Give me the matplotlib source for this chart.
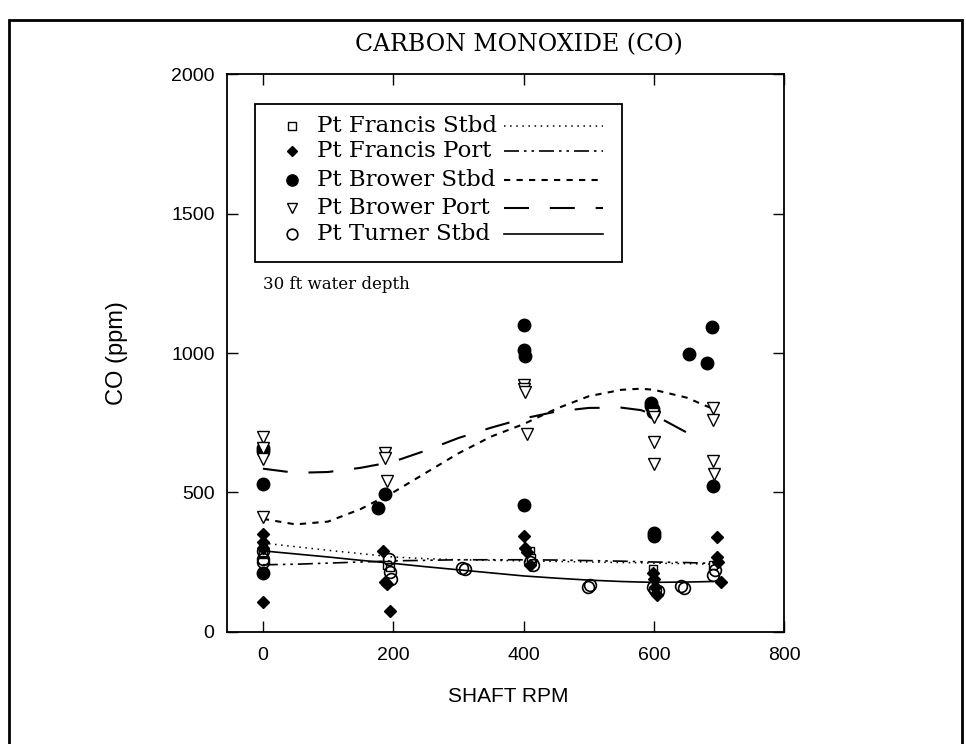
import matplotlib
matplotlib.use("Agg")
import matplotlib.pyplot as plt
from matplotlib.patches import Rectangle

# scatter data (shaft rpm, CO ppm)
francis_stbd_x = [0, 0, 190, 195, 410, 412, 598, 690]
francis_stbd_y = [300, 280, 240, 232, 290, 265, 225, 240]

francis_port_x = [0, 0, 0, 0, 185, 188, 190, 195, 400, 402, 405, 410, 598, 600, 602, 605, 697, 697, 698, 702]
francis_port_y = [350, 320, 300, 105, 290, 180, 170, 75, 345, 300, 285, 240, 210, 190, 160, 130, 341, 269, 250, 180]

brower_stbd_x = [0, 0, 0, 0, 176, 187, 400, 400, 402, 400, 596, 596, 598, 598, 600, 600, 654, 682, 689, 691]
brower_stbd_y = [660, 650, 530, 210, 445, 495, 1100, 1010, 990, 455, 820, 810, 800, 790, 355, 345, 995, 966, 1095, 524]

brower_port_x = [0, 0, 0, 0, 187, 188, 190, 400, 400, 402, 405, 598, 600, 600, 600, 690, 691, 690, 692]
brower_port_y = [700, 660, 620, 410, 640, 622, 540, 885, 870, 860, 710, 780, 770, 680, 600, 804, 760, 614, 567]

turner_stbd_x = [0, 0, 0, 193, 195, 197, 305, 310, 410, 415, 498, 502, 598, 602, 606, 642, 646, 690, 693]
turner_stbd_y = [290, 260, 250, 260, 215, 190, 230, 225, 250, 240, 160, 168, 160, 150, 145, 165, 155, 205, 220]

# fitted curves
fit_x = [0, 50, 100, 150, 200, 250, 300, 350, 400, 450, 500, 550, 580, 600, 650, 690]
francis_stbd_fit = [318, 305, 292, 280, 268, 262, 258, 256, 254, 252, 250, 248, 247, 246, 244, 242]
francis_port_fit = [240, 242, 246, 250, 254, 256, 258, 258, 258, 257, 255, 253, 251, 250, 248, 245]
brower_stbd_fit = [405, 385, 395, 440, 500, 570, 640, 700, 745, 800, 845, 868, 872, 868, 840, 800]
brower_port_fit = [585, 570, 573, 588, 610, 650, 695, 732, 765, 790, 803, 804, 795, 778, 715, None]
turner_stbd_fit = [290, 279, 268, 256, 245, 233, 222, 211, 200, 192, 185, 180, 178, 177, 178, 180]

names = ["Pt Francis Stbd", "Pt Francis Port", "Pt Brower Stbd", "Pt Brower Port", "Pt Turner Stbd"]
xticks = [0, 200, 400, 600, 800]
yticks = [0, 500, 1000, 1500, 2000]

markers = [
    dict(marker="s", ms=6, mfc="white", mec="black", mew=1),
    dict(marker="D", ms=6, mfc="black", mec="black", mew=1),
    dict(marker="o", ms=9, mfc="black", mec="black", mew=1),
    dict(marker="v", ms=8.5, mfc="white", mec="black", mew=1),
    dict(marker="o", ms=8.5, mfc="none", mec="black", mew=1.2),
]
styles = [
    dict(ls=(0, (1, 3)), lw=1.1),
    dict(ls=(0, (9, 3, 1.5, 3, 1.5, 3)), lw=1.2),
    dict(ls=(0, (3, 3)), lw=1.5),
    dict(ls=(0, (12, 10)), lw=1.5),
    dict(ls="-", lw=1.2),
]

serif = "DejaVu Serif"
sans = "Liberation Sans"

fig = plt.figure(figsize=(9.66, 7.44), dpi=100)
ax = fig.add_axes([0.235, 0.151, 0.577, 0.749])

xs = [francis_stbd_x, francis_port_x, brower_stbd_x, brower_port_x, turner_stbd_x]
ys = [francis_stbd_y, francis_port_y, brower_stbd_y, brower_port_y, turner_stbd_y]
fits = [francis_stbd_fit, francis_port_fit, brower_stbd_fit, brower_port_fit, turner_stbd_fit]

for fx in range(5):
    fy = fits[fx]
    px = [a for a, b in zip(fit_x, fy) if b is not None]
    py = [b for b in fy if b is not None]
    ax.plot(px, py, color="black", **styles[fx])

for i in range(5):
    ax.plot(xs[i], ys[i], ls="none", **markers[i])

ax.set_xlim(-55, 800)
ax.set_ylim(0, 2000)
ax.set_xticks(xticks)
ax.set_yticks(yticks)
ax.tick_params(direction="in", length=8, width=1, top=True, right=True, labelsize=14)
ax.tick_params(axis="x", pad=11)
ax.tick_params(axis="y", pad=9)
for lab in ax.get_xticklabels() + ax.get_yticklabels():
    lab.set_fontfamily(sans)
for sp in ax.spines.values():
    sp.set_linewidth(1.3)

ax.set_xlabel("SHAFT RPM", fontsize=15, fontfamily=sans)
ax.set_ylabel("CO (ppm)", fontsize=17, fontfamily=sans)
ax.xaxis.set_label_coords(0.504, -0.10)
ax.yaxis.set_label_coords(-0.178, 0.5)

ax.text(0.523, 1.054, "CARBON MONOXIDE (CO)", transform=ax.transAxes, ha="center",
        va="center", fontsize=17, fontfamily=serif)
ax.text(0, 1246, "30 ft water depth", ha="left", va="center", fontsize=12, fontfamily=serif)

# legend drawn like the original: marker, label, then line sample
ax.add_patch(Rectangle((0.05, 0.664), 0.659, 0.282, transform=ax.transAxes,
                       fill=False, lw=1.3, zorder=5))
rows = [0.908, 0.862, 0.811, 0.761, 0.713]
for i in range(5):
    m = dict(markers[i])
    m["ms"] = m["ms"] * 0.9
    ax.plot([0.117], [rows[i]], transform=ax.transAxes, ls="none", clip_on=False, **m)
    ax.text(0.162, rows[i], names[i], transform=ax.transAxes, ha="left", va="center",
            fontsize=16.5, fontfamily=serif)
    ax.plot([0.497, 0.675], [rows[i], rows[i]], transform=ax.transAxes, color="black",
            **styles[i])

fig.add_artist(Rectangle((0.009, -0.01), 0.987, 0.983, transform=fig.transFigure,
                         fill=False, lw=2, ec="black"))

fig.savefig("out.png", dpi=100)
